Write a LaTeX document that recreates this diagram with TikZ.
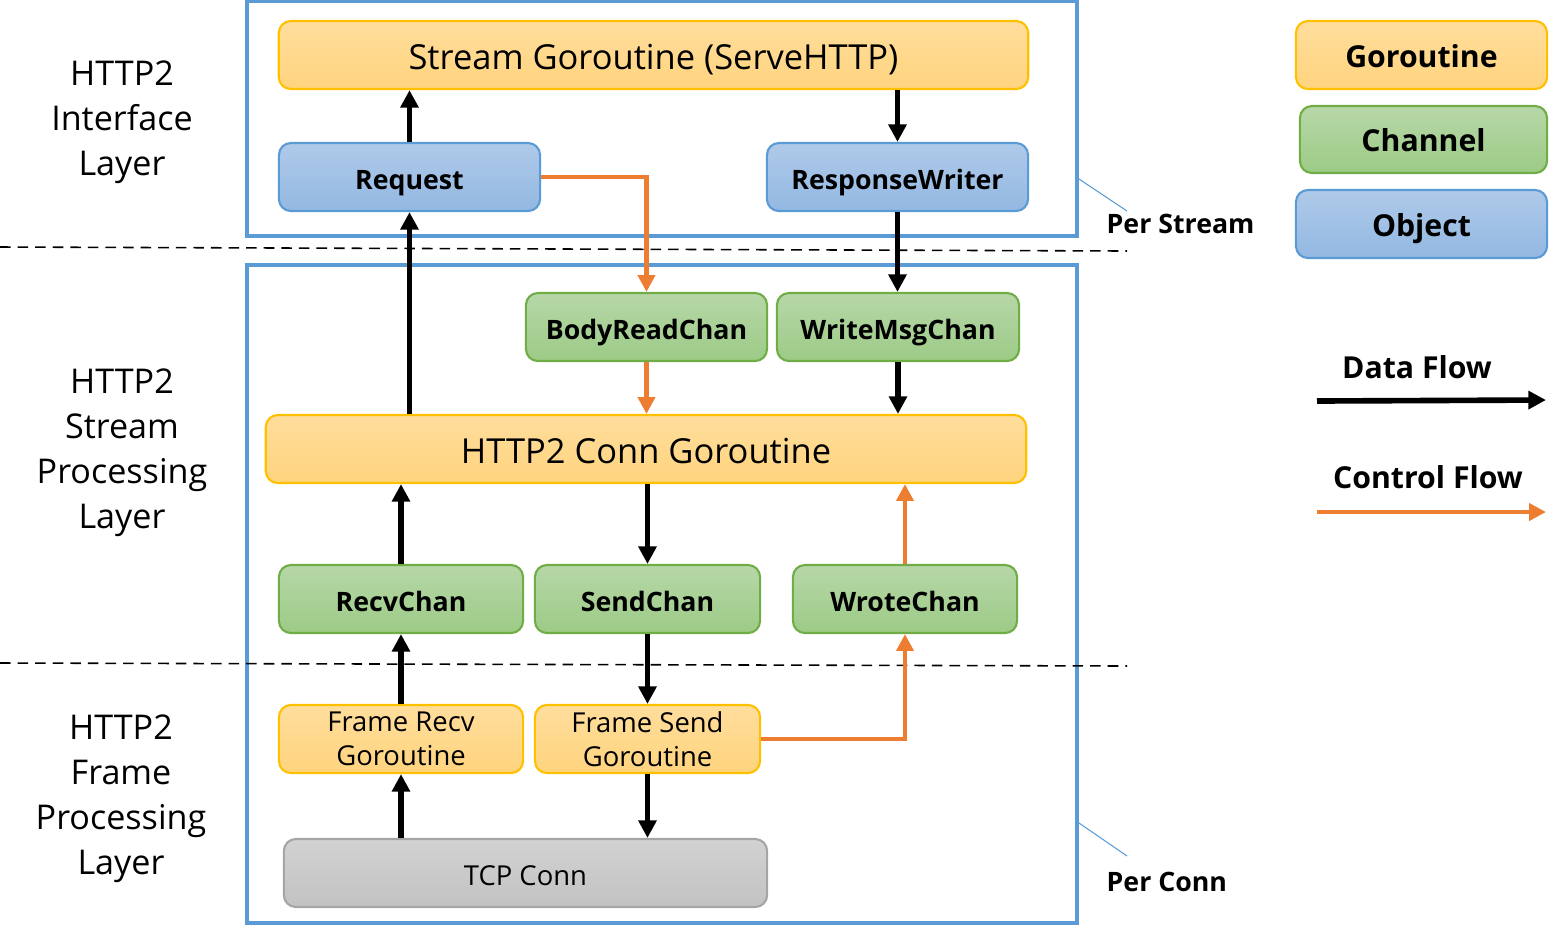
\documentclass[tikz,border=0pt]{standalone}
\usepackage{fontspec}
\setmainfont{Open Sans}
\usetikzlibrary{arrows.meta}
\definecolor{gorTop}{HTML}{FFDD9C}
\definecolor{gorBot}{HTML}{FFD47E}
\definecolor{gorLine}{HTML}{FFC000}
\definecolor{chTop}{HTML}{B7D7A8}
\definecolor{chBot}{HTML}{9CCB86}
\definecolor{chLine}{HTML}{70AD47}
\definecolor{obTop}{HTML}{AFCAE9}
\definecolor{obBot}{HTML}{93B8E2}
\definecolor{obLine}{HTML}{5B9BD5}
\definecolor{tcTop}{HTML}{D2D2D2}
\definecolor{tcBot}{HTML}{C2C2C2}
\definecolor{tcLine}{HTML}{A5A5A5}
\definecolor{ctl}{HTML}{ED7D31}
\definecolor{frame}{HTML}{5B9BD5}
\tikzset{
  base/.style={rounded corners=0.12cm, line width=0.6pt, inner sep=0pt, align=center},
  oneline/.style={text height=0.8em, text depth=0pt},
  smallline/.style={text height=0.7em, text depth=0pt},
  gor/.style={base, draw=gorLine, top color=gorTop, bottom color=gorBot},
  chan/.style={base, smallline, draw=chLine, top color=chTop, bottom color=chBot, font=\fontsize{7.6pt}{9pt}\selectfont\bfseries},
  obj/.style={base, smallline, draw=obLine, top color=obTop, bottom color=obBot, font=\fontsize{7.6pt}{9pt}\selectfont\bfseries},
  tcp/.style={base, smallline, draw=tcLine, top color=tcTop, bottom color=tcBot},
  legfont/.style={font=\fontsize{8.6pt}{10pt}\selectfont\bfseries},
  layerbox/.style={draw=frame, line width=1pt},
  data/.style={draw=black, line width=1.6pt, -{Triangle[width=5pt,length=5pt]}},
  control/.style={draw=ctl, line width=1.25pt, -{Triangle[width=4.8pt,length=4.8pt]}},
  sep/.style={draw=black, line width=0.45pt, dash pattern=on 3pt off 2pt},
  lbl/.style={align=center, font=\fontsize{9.7pt}{12.8pt}\selectfont},
  bold/.style={inner sep=0pt, font=\fontsize{7.6pt}{9pt}\selectfont\bfseries},
  leader/.style={draw=frame, line width=0.3pt},
}
\begin{document}
\begin{tikzpicture}[x=0.01cm, y=-0.01cm]
\useasboundingbox (0,0) rectangle (1565,926);
% frames
\draw[layerbox] (247,1) rectangle (1077,236);
\draw[layerbox] (247,265) rectangle (1077,923);
% separators
\coordinate (s1a) at (0,247);
\coordinate (s1b) at (1127,251);
\coordinate (s2a) at (0,663);
\coordinate (s2b) at (1127,666);
\draw[sep] (s1a) -- (s1b);
\draw[sep] (s2a) -- (s2b);
% nodes
\node[gor, oneline, minimum width=7.49cm, minimum height=0.68cm, font=\fontsize{9.8pt}{12pt}\selectfont] (sg) at (653.5,55) {Stream Goroutine (ServeHTTP)};
\node[obj, minimum width=2.61cm, minimum height=0.68cm] (req) at (409.5,177) {Request};
\node[obj, minimum width=2.61cm, minimum height=0.68cm] (rw) at (897.5,177) {ResponseWriter};
\node[chan, minimum width=2.41cm, minimum height=0.68cm] (brc) at (646.5,327) {BodyReadChan};
\node[chan, minimum width=2.42cm, minimum height=0.68cm] (wmc) at (898,327) {WriteMsgChan};
\node[gor, oneline, minimum width=7.60cm, minimum height=0.68cm, font=\fontsize{9.8pt}{12pt}\selectfont] (conn) at (646,449) {HTTP2 Conn Goroutine};
\node[chan, minimum width=2.44cm, minimum height=0.68cm] (rc) at (401,599) {RecvChan};
\node[chan, minimum width=2.25cm, minimum height=0.68cm] (sc) at (647.5,599) {SendChan};
\node[chan, minimum width=2.24cm, minimum height=0.68cm] (wc) at (905,599) {WroteChan};
\node[gor, minimum width=2.44cm, minimum height=0.68cm, font=\fontsize{7.8pt}{9.6pt}\selectfont] (fr) at (401,739) {Frame Recv\\Goroutine};
\node[gor, minimum width=2.25cm, minimum height=0.68cm, font=\fontsize{7.8pt}{9.6pt}\selectfont] (fs) at (647.5,739) {Frame Send\\Goroutine};
\node[tcp, minimum width=4.83cm, minimum height=0.68cm, font=\fontsize{7.8pt}{9.6pt}\selectfont] (tcp) at (525.5,873) {TCP Conn};
% legend
\node[gor, smallline, legfont, minimum width=2.51cm, minimum height=0.68cm] (lg) at (1421.5,55) {Goroutine};
\node[chan, legfont, minimum width=2.47cm, minimum height=0.67cm] (lc) at (1423.5,139.5) {Channel};
\node[obj, legfont, minimum width=2.51cm, minimum height=0.68cm] (lo) at (1421.5,224) {Object};
\node[legfont] (dft) at (1417,367) {Data Flow};
\node[legfont] (cft) at (1428,477) {Control Flow};
\coordinate (da) at (1317,401);
\coordinate (db) at (1546,400);
\coordinate (ca) at (1317,512);
\coordinate (cb) at (1546,512);
\draw[data] (da) -- (db);
\draw[control] (ca) -- (cb);
% per labels
\node[bold, anchor=west] (ps) at (1106,224) {Per Stream};
\node[bold, anchor=west] (pc) at (1106,882) {Per Conn};
\coordinate (l1a) at (1079,179);
\coordinate (l1b) at (1127,211);
\coordinate (l2a) at (1079,823);
\coordinate (l2b) at (1127,856);
\draw[leader] (l1a) -- (l1b);
\draw[leader] (l2a) -- (l2b);
% layer labels
\node[lbl] (L1) at (122,122) {HTTP2\\Interface\\Layer};
\node[lbl] (L2) at (122,453) {HTTP2\\Stream\\Processing\\Layer};
\node[lbl] (L3) at (121,799) {HTTP2\\Frame\\Processing\\Layer};
% data flow
\draw[data] (req.north) -- (req.north |- sg.south);
\draw[data] (conn.north -| req.south) -- (req.south);
\draw[data] (sg.south -| rw.north) -- (rw.north);
\draw[data] (rw.south) -- (rw.south |- wmc.north);
\draw[data] (wmc.south) -- (wmc.south |- conn.north);
\draw[data] (rc.north) -- (rc.north |- conn.south);
\draw[data] (conn.south -| sc.north) -- (sc.north);
\draw[data] (fr.north) -- (rc.south);
\draw[data] (sc.south) -- (fs.north);
\draw[data] (tcp.north -| fr.south) -- (fr.south);
\draw[data] (fs.south) -- (fs.south |- tcp.north);
% control flow
\draw[control] (req.east) -| (brc.north);
\draw[control] (brc.south) -- (brc.south |- conn.north);
\draw[control] (wc.north) -- (wc.north |- conn.south);
\draw[control] (fs.east) -| (wc.south);
\end{tikzpicture}
\end{document}
